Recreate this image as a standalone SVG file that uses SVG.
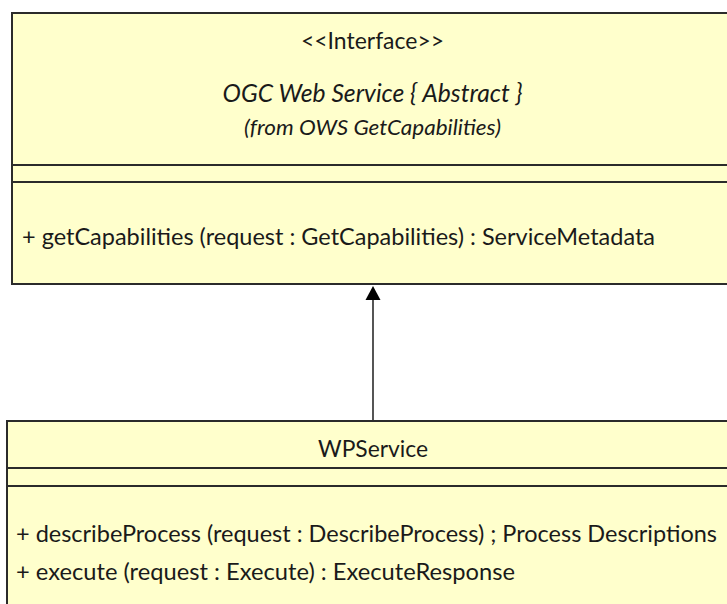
<svg xmlns="http://www.w3.org/2000/svg" width="727" height="604" viewBox="0 0 727 604">
  <style>
    .box { fill: #ffffcc; stroke: #2b2b2b; stroke-width: 2; }
    .div { stroke: #2b2b2b; stroke-width: 2; }
    .t { font-family: Lato, "Open Sans", "Liberation Sans", sans-serif; fill: #1a1a1a; }
    .c { text-anchor: middle; }
    .i { font-style: italic; }
    .edge { stroke: #2b2b2b; stroke-width: 1.6; fill: none; }
  </style>
  <rect width="727" height="604" fill="#ffffff"/>

  <g id="connectors">
    <line class="edge" x1="373" y1="421" x2="373" y2="298"/>
    <path d="M365.5,300 L373,286 L380.5,300 Z" fill="#000"/>
  </g>

  <g id="ogc-web-service">
    <rect class="box" x="12" y="13" width="740" height="271"/>
    <line class="div" x1="12" y1="165" x2="727" y2="165"/>
    <line class="div" x1="12" y1="182" x2="727" y2="182"/>
    <text class="t c" x="372.5" y="49" font-size="22.5" textLength="143" lengthAdjust="spacingAndGlyphs">&lt;&lt;Interface&gt;&gt;</text>
    <text class="t c i" x="372.5" y="102" font-size="24.5" textLength="300" lengthAdjust="spacingAndGlyphs">OGC Web Service { Abstract }</text>
    <text class="t c i" x="372.5" y="135" font-size="20.5" textLength="257" lengthAdjust="spacingAndGlyphs">(from OWS GetCapabilities)</text>
    <text class="t" x="22" y="245" font-size="22.5" textLength="633" lengthAdjust="spacingAndGlyphs">+ getCapabilities (request : GetCapabilities) : ServiceMetadata</text>
  </g>

  <g id="wpservice">
    <rect class="box" x="7" y="421" width="740" height="200"/>
    <line class="div" x1="7" y1="468" x2="727" y2="468"/>
    <line class="div" x1="7" y1="486" x2="727" y2="486"/>
    <text class="t c" x="373" y="457" font-size="22.5" textLength="110" lengthAdjust="spacingAndGlyphs">WPService</text>
    <text class="t" x="16" y="542" font-size="22.5" textLength="701" lengthAdjust="spacingAndGlyphs">+ describeProcess (request : DescribeProcess) ; Process Descriptions</text>
    <text class="t" x="16" y="580" font-size="22.5" textLength="499" lengthAdjust="spacingAndGlyphs">+ execute (request : Execute) : ExecuteResponse</text>
  </g>
</svg>
